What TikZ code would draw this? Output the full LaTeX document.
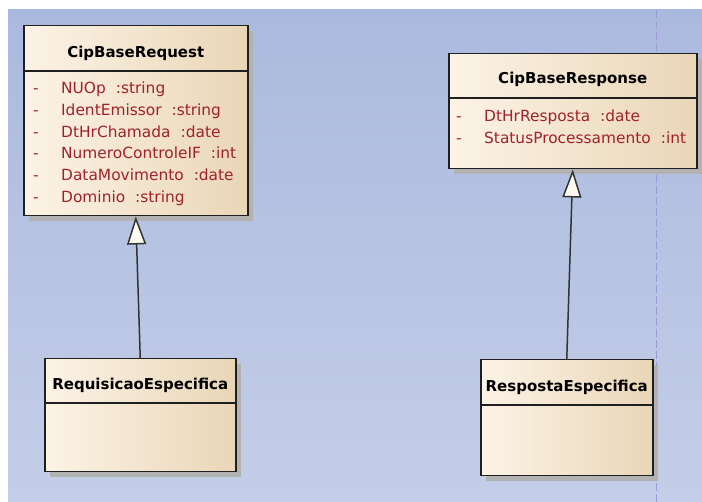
\documentclass[tikz,border=0pt]{standalone}
\usepackage{fontspec}
\setmainfont{DejaVu Sans}
\usetikzlibrary{arrows.meta,positioning,calc,shadows}
\definecolor{DiagramTop}{HTML}{AAB9DE}
\definecolor{DiagramBottom}{HTML}{C5CEE8}
\definecolor{ClassLeft}{HTML}{FCF3E6}
\definecolor{ClassRight}{HTML}{E9D6B7}
\definecolor{AttrRed}{HTML}{A1222A}
\definecolor{LaneLine}{HTML}{9D9BD6}
\definecolor{TipFill}{HTML}{FFFBF0}

\newcommand{\attrrow}[2]{\makebox[28pt][l]{-}#1\hspace{10pt}:#2}

\begin{document}
\begin{tikzpicture}[x=1pt, y=-1pt,
  classbox/.style={draw=black!88, line width=1.5pt, left color=ClassLeft, right color=ClassRight, anchor=north west, inner sep=0pt,
    drop shadow={shadow xshift=5pt, shadow yshift=-5pt, fill=black!30, opacity=1}},
  classname/.style={font=\bfseries\fontsize{15}{18}\selectfont, anchor=base, inner sep=0pt},
  attrs/.style={font=\fontsize{15.4}{21.8}\selectfont, text=AttrRed, align=left, anchor=base west, inner sep=0pt},
  sep/.style={draw=black!88, line width=1.5pt},
  inherit/.style={-{Triangle[length=28pt, width=19pt, fill=TipFill]}, line width=1.5pt, draw=black!80},
  lane/.style={draw=LaneLine, line width=0.8pt, dash pattern=on 8pt off 3pt}
]
\useasboundingbox (0,0) rectangle (702,502);
\fill[white] (0,0) rectangle (702,502);
\shade[top color=DiagramTop, bottom color=DiagramBottom] (8,10) rectangle (702,502);
\draw[lane] (656,10) -- (656,502);

\node[classbox, minimum width=224pt, minimum height=190pt] (req) at (23,25) {};
\node[classname] (reqname) at ($(req.north)+(0,32.5)$) {CipBaseRequest};
\draw[sep] ($(req.north west)+(0,46)$) -- ($(req.north east)+(0,46)$);
\node[attrs] (reqattrs) at (33,202.5) {\attrrow{NUOp}{string}\\\attrrow{IdentEmissor}{string}\\\attrrow{DtHrChamada}{date}\\
  \attrrow{NumeroControleIF}{int}\\\attrrow{DataMovimento}{date}\\\attrrow{Dominio}{string}};

\node[classbox, minimum width=248pt, minimum height=115pt] (resp) at (448,53) {};
\node[classname] (respname) at ($(resp.north)+(0,30.5)$) {CipBaseResponse};
\draw[sep] ($(resp.north west)+(0,45)$) -- ($(resp.north east)+(0,45)$);
\node[attrs] (respattrs) at (456,143.5) {\attrrow{DtHrResposta}{date}\\\attrrow{StatusProcessamento}{int}};

\node[classbox, minimum width=191pt, minimum height=113pt] (reqsub) at (44,358) {};
\node[classname] (reqsubname) at ($(reqsub.north)+(0,31.5)$) {RequisicaoEspecifica};
\draw[sep] ($(reqsub.north west)+(0,45)$) -- ($(reqsub.north east)+(0,45)$);

\node[classbox, minimum width=172pt, minimum height=116pt] (respsub) at (480,359) {};
\node[classname] (respsubname) at ($(respsub.north)+(0,32.5)$) {RespostaEspecifica};
\draw[sep] ($(respsub.north west)+(0,46)$) -- ($(respsub.north east)+(0,46)$);

\draw[inherit] (reqsub.north) -- (req.south);
\draw[inherit] (respsub.north) -- (resp.south);
\end{tikzpicture}
\end{document}
